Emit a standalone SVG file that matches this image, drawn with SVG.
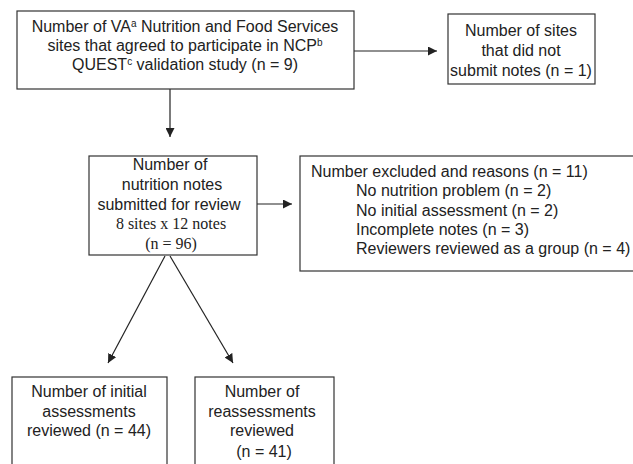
<svg xmlns="http://www.w3.org/2000/svg" width="633" height="464" viewBox="0 0 633 464">
<defs>
<style>
.box{fill:#fff;stroke:#333;stroke-width:1.2}
.t{font-family:"Liberation Sans",Arial,sans-serif;font-size:16px;fill:#222}
.c{text-anchor:middle}
.s{font-family:"Liberation Serif","Times New Roman",serif;font-size:16px;fill:#222}
.ln{stroke:#222;stroke-width:1.2;fill:none}
</style>
<marker id="ah" viewBox="0 0 10 10" refX="10" refY="5" markerWidth="9" markerHeight="9" markerUnits="userSpaceOnUse" orient="auto">
<path d="M0,0 L10,5 L0,10 z" fill="#222"/>
</marker>
</defs>
<rect width="633" height="464" fill="#fff"/>
<g id="connectors">
<line class="ln" x1="170" y1="89" x2="170" y2="137" marker-end="url(#ah)"/>
<line class="ln" x1="354" y1="51" x2="437" y2="51" marker-end="url(#ah)"/>
<line class="ln" x1="257" y1="204" x2="292" y2="204" marker-end="url(#ah)"/>
<line class="ln" x1="165" y1="256" x2="108" y2="363" marker-end="url(#ah)"/>
<line class="ln" x1="170" y1="256" x2="233" y2="363" marker-end="url(#ah)"/>
</g>
<g id="sites">
<rect class="box" x="17" y="11" width="337" height="78"/>
<text class="t c" x="185" y="32">Number of VA<tspan font-size="10" dy="-5">a</tspan><tspan dy="5"> Nutrition and Food Services</tspan></text>
<text class="t c" x="185" y="51">sites that agreed to participate in NCP<tspan font-size="10" dy="-5">b</tspan></text>
<text class="t c" x="185" y="70">QUEST<tspan font-size="10" dy="-5">c</tspan><tspan dy="5"> validation study  (n = 9)</tspan></text>
</g>
<g id="nosubmit">
<rect class="box" x="448" y="14" width="147" height="70"/>
<text class="t c" x="521" y="36">Number of sites</text>
<text class="t c" x="521" y="56">that did not</text>
<text class="t c" x="521" y="76">submit notes (n = 1)</text>
</g>
<g id="notes">
<rect class="box" x="89" y="156" width="168" height="99"/>
<text class="t c" x="170" y="170">Number of</text>
<text class="t c" x="172" y="190">nutrition notes</text>
<text class="t c" x="169" y="210">submitted for review</text>
<text class="s c" x="171" y="229">8 sites x 12 notes</text>
<text class="s c" x="171" y="249">(n = 96)</text>
</g>
<g id="excluded">
<rect class="box" x="300" y="156" width="340" height="115"/>
<text class="t" x="311" y="177">Number excluded and reasons (n = 11)</text>
<text class="t" x="356" y="196">No nutrition problem (n = 2)</text>
<text class="t" x="356" y="216">No initial assessment (n = 2)</text>
<text class="t" x="356" y="235">Incomplete notes (n = 3)</text>
<text class="t" x="356" y="254">Reviewers reviewed as a group (n = 4)</text>
</g>
<g id="initial">
<rect class="box" x="12" y="377" width="155" height="100"/>
<text class="t c" x="89" y="397">Number of initial</text>
<text class="t c" x="89" y="417">assessments</text>
<text class="t c" x="89" y="436">reviewed (n = 44)</text>
</g>
<g id="reassess">
<rect class="box" x="195" y="377" width="139" height="100"/>
<text class="t c" x="262" y="397">Number of</text>
<text class="t c" x="262" y="417">reassessments</text>
<text class="t c" x="262" y="436">reviewed</text>
<text class="t c" x="264" y="457">(n = 41)</text>
</g>
</svg>
